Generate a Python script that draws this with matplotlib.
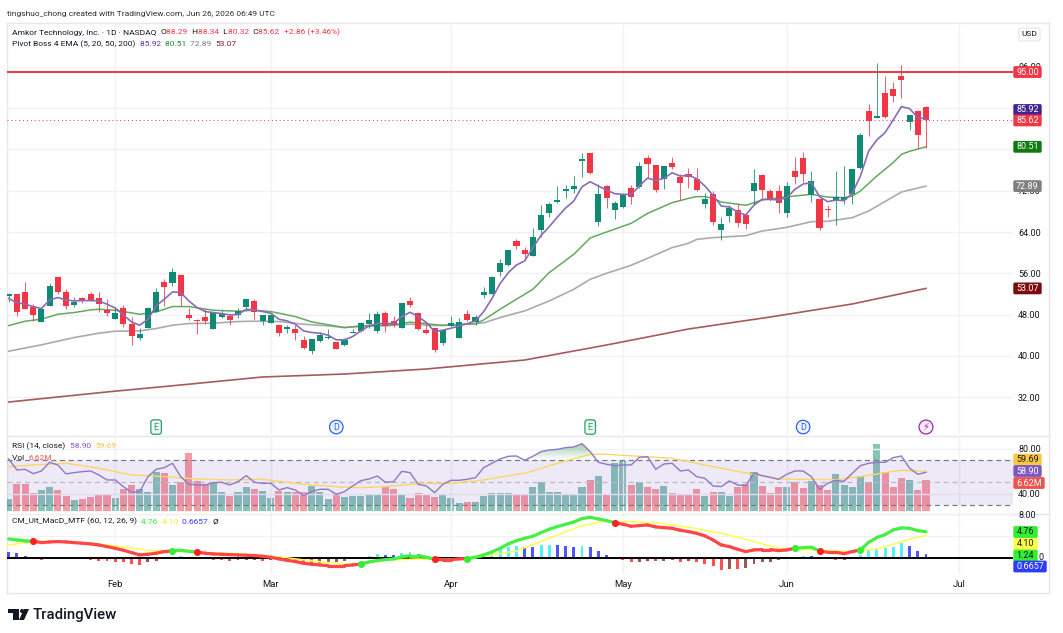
import numpy as np
import matplotlib
matplotlib.use("Agg")
import matplotlib.pyplot as plt
from matplotlib.patches import Rectangle, Circle, Polygon, FancyBboxPatch
from matplotlib.path import Path
from matplotlib.collections import LineCollection
from matplotlib.transforms import Affine2D

plt.rcParams['font.family'] = ['Roboto', 'DejaVu Sans']

month_idx = [13, 32, 54, 75, 95, 116]
month_lab = ['Feb', 'Mar', 'Apr', 'May', 'Jun', 'Jul']

opens = [51.55,51.93,52.32,49.48,46.58,49.68,55.23,52.45,49.94,51.16,
         52.0,51.16,48.84,47.16,49.35,46.13,43.48,45.42,48.52,54.26,
         54.19,55.74,47.87,46.97,47.48,45.23,47.55,47.68,47.93,49.42,
         50.65,46.84,46.39,46.0,45.16,45.16,43.03,40.9,42.9,43.55,
         42.65,42.06,44.45,44.77,46.13,44.77,48.26,46.71,45.42,50.64,
         48.39,44.97,45.35,42.52,45.74,43.55,48.19,46.52,51.81,52.06,
         56.26,57.61,62.19,60.45,59.35,64.32,67.68,69.81,71.93,72.26,
         77.68,79.22,65.93,72.9,68.26,68.77,72.45,72.64,78.39,76.9,
         74.32,77.29,74.64,75.31,74.21,69.36,71.3,64.45,67.1,68.2,
         67.23,71.95,74.99,72.01,71.88,67.68,75.89,78.28,71.17,70.33,
         68.33,70.2,70.2,71.3,76.34,87.53,86.1,91.02,91.79,94.18,
         85.33,87.53,88.29]
highs = [52.26,52.0,54.26,50.13,49.16,54.06,55.25,52.9,51.48,51.42,
         52.39,52.39,50.97,49.35,49.94,47.61,45.35,49.4,53.23,54.84,
         57.1,55.8,49.23,47.1,49.03,48.45,48.9,48.0,49.29,51.1,
         51.1,47.95,48.06,46.05,45.94,45.94,43.87,43.3,44.65,45.29,
         42.7,43.55,45.29,46.52,48.26,48.64,48.64,47.74,50.32,51.48,
         48.45,46.19,45.4,45.16,47.68,47.42,48.9,47.87,53.29,55.42,
         58.84,60.5,62.71,61.16,64.84,69.29,69.74,72.97,73.03,74.77,
         79.22,79.3,73.35,73.03,70.06,71.61,73.16,77.61,78.97,76.95,
         76.75,78.58,75.29,76.47,76.47,71.62,71.95,66.91,69.17,69.36,
         67.75,76.28,75.18,72.27,73.18,73.63,78.48,79.45,75.76,70.4,
         69.23,75.76,76.86,76.2,83.26,88.75,96.71,94.18,93.09,96.32,
         86.7,87.6,88.34]
lows = [50.45,47.74,49.03,46.77,46.5,49.6,51.93,49.16,49.55,50.32,
        50.65,48.52,47.74,47.1,45.68,42.13,43.1,45.35,48.45,49.68,
        53.55,49.68,46.97,44.26,46.19,45.15,47.42,45.94,47.42,49.16,
        47.1,46.06,46.35,43.87,44.52,43.1,41.42,40.39,42.71,43.35,
        41.25,42.0,44.39,44.71,45.48,44.52,44.64,45.55,45.4,49.48,
        45.03,44.26,40.84,42.13,45.68,43.42,46.84,46.0,51.16,52.0,
        55.42,57.42,60.64,58.58,59.3,63.1,66.97,69.55,70.52,71.48,
        74.64,75.22,65.1,68.58,66.45,68.7,69.42,72.6,74.52,71.81,
        72.26,76.13,70.13,72.59,72.0,68.59,65.35,62.44,65.94,64.97,
        64.51,69.23,70.33,70.01,67.62,66.91,73.24,73.69,69.81,64.32,
        66.91,65.29,69.36,69.49,76.28,82.61,86.05,86.17,89.21,89.92,
        83.71,80.22,80.32]
closes = [52.0,48.58,49.10,47.93,49.03,53.48,52.39,49.61,50.39,50.58,
          50.77,50.0,48.32,48.26,46.19,43.81,44.26,49.35,52.45,53.35,
          56.19,51.61,47.35,46.84,46.71,48.39,48.06,46.97,48.65,50.97,
          48.52,47.87,47.87,44.45,45.68,44.45,41.55,43.23,44.0,43.74,
          41.29,43.1,44.71,46.39,46.97,48.13,45.81,46.06,50.26,49.87,
          45.16,44.39,41.22,45.03,46.45,46.64,46.97,47.61,52.39,55.22,
          57.93,60.45,61.22,59.68,62.97,67.35,69.48,70.26,72.26,72.9,
          78.06,75.48,71.29,70.52,69.68,71.16,70.84,76.71,77.16,72.13,
          76.71,76.52,73.42,74.66,72.08,70.4,65.87,65.61,68.59,65.81,
          65.61,73.43,72.08,70.33,69.56,72.85,74.73,75.18,73.89,64.84,
          68.2,70.85,70.72,76.15,82.81,85.46,86.56,86.3,90.37,93.54,
          86.62,82.81,85.62]

ema5 = [51.1,50.32,50.0,49.55,49.16,50.84,51.29,50.84,50.65,50.71,
        50.71,50.65,50.0,49.29,47.93,46.58,45.94,47.1,49.68,50.97,
        52.39,52.26,50.65,49.35,48.58,48.39,48.19,47.93,48.0,49.03,
        48.9,48.58,48.26,47.1,46.77,46.13,44.84,44.52,44.39,44.0,
        43.1,43.1,43.74,44.84,45.81,46.26,46.26,46.26,47.61,48.45,
        47.61,46.45,44.71,44.97,45.35,45.81,46.26,46.77,48.58,51.1,
        54.0,56.13,57.61,58.39,60.97,63.35,65.03,66.9,68.65,70.0,
        72.77,73.74,72.9,72.13,71.42,71.29,71.29,72.9,74.45,74.0,
        74.39,75.48,74.84,74.99,74.34,72.92,71.11,69.04,68.84,67.87,
        67.29,69.23,70.33,70.33,70.2,70.65,72.27,73.3,73.56,70.85,
        69.88,70.2,70.07,71.49,74.86,79.7,81.84,83.26,85.72,88.3,
        87.91,86.17,85.92]

ema20_i = [0,2,4,6,8,10,11,13,16,18,20,22,25,28,30,32,35,37,41,43,45,47,49,51,53,55,57,58,60,62,64,66,
           69,71,73,76,78,81,83,84,85,86,87,90,92,94,96,98,100,102,103,104,106,108,109,110,112]
ema20 = [45.87,46.71,47.1,48.06,48.39,48.9,49.03,48.84,48.06,48.52,49.55,49.55,48.84,48.65,48.84,48.58,47.61,46.58,45.48,
         45.81,45.93,46.06,46.52,46.26,45.87,46.06,46.19,46.97,49.03,50.97,52.9,56.13,
         59.68,62.84,64.0,65.68,67.61,69.68,70.52,70.85,70.85,70.52,69.81,69.17,70.2,70.65,70.98,71.3,70.78,70.65,70.98,71.95,
         74.86,77.44,79.06,79.64,80.51]

ema50_i = [0,4,8,11,13,16,18,20,22,25,28,30,33,36,39,41,43,46,49,52,55,58,60,63,66,69,71,73,76,78,81,83,
           84,86,90,92,95,98,100,103,105,109,112]
ema50 = [40.9,42.13,43.55,44.39,44.77,44.84,45.29,45.94,46.26,46.32,46.65,46.71,46.65,46.13,45.81,45.48,
         45.68,45.81,46.13,45.87,46.06,46.39,47.42,48.71,50.64,52.9,54.84,56.0,57.55,58.9,60.97,61.81,
         62.57,62.9,63.29,64.19,64.9,66.0,66.07,66.78,68.07,71.75,72.89]

ema200_i = [0,12,21,31,41,51,63,73,83,93,103,112]
ema200 = [31.05,33.0,34.35,35.9,36.48,37.45,39.19,42.1,45.2,47.53,50.05,53.07]

volume_m = [2.59,5.75,5.75,3.88,4.53,5.18,4.53,3.24,2.37,2.59,
            3.02,3.45,3.45,2.88,4.75,5.61,4.75,4.17,8.34,8.2,
            5.61,6.18,12.51,6.54,5.82,6.18,4.1,3.24,4.17,5.18,
            4.67,4.31,2.73,4.31,4.1,4.1,4.1,5.46,4.1,2.59,
            3.88,3.02,3.31,3.16,3.67,3.45,5.39,4.67,3.67,2.8,
            3.88,3.45,3.02,3.45,2.8,1.8,1.94,1.94,3.31,3.81,
            3.88,3.81,3.45,3.67,5.18,6.18,4.1,4.17,3.67,3.67,
            5.18,6.61,7.48,3.67,10.35,10.79,5.61,6.18,5.18,4.67,
            5.39,3.81,3.45,3.45,4.75,3.16,4.17,4.17,3.16,5.18,
            5.75,8.48,5.39,3.88,5.18,5.18,6.26,4.96,6.47,5.61,
            4.53,7.91,5.61,5.18,7.48,6.18,14.45,8.34,5.18,7.12,
            6.61,4.53,6.62]

rsi = [70.74,60.96,61.56,57.7,60.07,67.78,65.41,57.41,58.59,59.48,
       60.07,56.52,52.07,52.07,46.15,41.11,41.7,55.04,61.56,63.04,
       66.89,55.04,48.22,47.63,47.63,49.7,50.0,47.63,50.59,55.93,
       50.0,49.11,49.11,43.19,45.26,43.19,38.15,41.7,43.78,43.78,
       39.33,41.7,46.74,51.48,52.96,55.63,50.0,50.59,59.78,58.59,
       48.22,46.74,40.81,48.22,51.78,51.78,52.67,54.15,63.04,66.89,
       70.74,73.11,73.41,69.56,73.11,77.26,78.74,79.33,80.81,81.41,
       84.37,77.26,67.78,66.0,64.81,65.41,65.41,72.22,72.81,61.56,
       66.3,66.89,60.07,60.96,55.04,53.56,46.74,46.15,51.19,47.63,
       47.04,58.0,55.93,54.44,52.67,57.11,60.07,60.07,55.04,43.78,
       49.11,51.78,50.89,58.0,64.81,66.89,67.78,67.78,71.93,73.41,
       62.44,57.11,58.9]

rsi_ma_i = [0,3,7,11,15,19,23,27,31,36,40,41,43,46,50,54,58,62,63,67,71,73,77,81,83,86,90,94,97,101,104,107,109,112]
rsi_ma = [63.93,65.41,66.89,62.44,56.52,55.04,52.96,52.07,52.67,48.22,46.15,45.56,45.26,46.15,48.81,49.11,52.07,57.11,58.0,
          66.89,74.89,74.89,73.11,71.33,68.37,63.93,58.3,52.96,52.67,52.37,55.04,58.59,60.67,59.69]

macd = [3.43,3.24,3.06,3.0,2.75,2.87,2.94,2.87,2.75,2.63,
        2.51,2.32,2.02,1.71,1.35,0.92,0.49,0.61,0.8,1.1,
        1.22,1.35,1.16,0.98,0.8,0.67,0.61,0.55,0.49,0.43,
        0.37,0.24,0.06,-0.24,-0.49,-0.73,-1.04,-1.22,-1.35,-1.47,
        -1.47,-1.47,-1.35,-1.16,-0.8,-0.55,-0.37,-0.24,0.12,0.37,
        0.37,0.06,-0.31,-0.37,-0.37,-0.24,-0.18,0.06,0.49,1.04,
        1.71,2.51,3.12,3.55,3.91,4.59,5.2,5.69,6.12,6.54,
        7.16,7.4,7.09,6.79,6.42,6.12,5.75,5.87,5.99,5.63,
        5.5,5.38,5.02,4.77,4.46,3.98,3.24,2.32,2.02,1.53,
        1.1,1.41,1.47,1.47,1.28,1.41,1.71,1.83,1.9,1.22,
        0.98,0.98,0.73,1.1,1.41,2.8,3.67,4.22,5.08,5.44,
        5.38,4.95,4.76]
cross_idx = [3, 20, 23, 43, 52, 56, 74, 96, 99, 104]

signal_i = [0,3,6,10,13,17,20,23,28,33,37,41,43,46,50,52,56,58,62,66,70,73,74,76,79,83,87,90,94,96,99,103,104,106,108,110,112]
signal = [2.32,2.94,3.06,2.63,2.14,1.35,1.2,1.0,0.7,0.15,-0.6,-1.22,-1.16,-0.49,-0.24,-0.35,-0.2,0.24,1.22,3.55,5.87,
          6.73,6.5,6.6,6.42,5.57,4.46,3.36,1.71,1.41,1.41,1.04,1.28,1.59,2.44,3.42,4.10]

hist = [1.1,0.86,0.31,-0.18,-0.37,-0.24,-0.18,-0.31,-0.24,-0.31,
        -0.43,-0.55,-0.61,-0.73,-0.86,-1.22,-1.28,-0.86,-0.55,-0.12,
        0.18,0.37,0.18,-0.12,-0.31,-0.37,-0.43,-0.55,-0.49,-0.43,
        -0.43,-0.55,-0.49,-0.31,-0.43,-0.73,-0.98,-1.1,-0.92,-0.73,
        -0.73,-0.67,-0.31,0.06,0.31,0.58,0.55,0.52,0.86,0.98,
        0.61,0.24,-0.18,-0.24,-0.18,-0.12,0.0,0.06,0.61,1.1,
        1.59,2.02,2.14,2.02,2.0,2.26,2.32,2.32,2.14,2.02,
        2.08,1.9,1.16,0.43,-0.18,-0.49,-0.86,-0.73,-0.55,-0.67,
        -0.55,-0.43,-0.73,-0.67,-0.8,-1.16,-1.53,-2.26,-2.02,-2.14,
        -1.96,-1.22,-0.86,-0.8,-0.49,-0.12,0.0,0.24,0.21,-0.24,
        -0.31,-0.43,-0.43,-0.12,0.43,1.35,1.65,1.83,2.02,2.63,
        2.08,1.22,0.6657]

event_idx = [18, 40, 71, 97, 112]
event_lab = ['E', 'D', 'E', 'D', '\u26a1']
event_col = ['#2e9e6b', '#2962ff', '#2e9e6b', '#2962ff', '#9c27b0']
price_ticks = [32, 40, 48, 56, 64, 72, 80, 88, 96]
price_tick_labels = ['32.00', '40.00', '48.00', '56.00', '64.00', '72.00', '', '', '96.00']

for name, arr in [('o',opens),('h',highs),('l',lows),('c',closes),('e5',ema5),('v',volume_m),('r',rsi),('m',macd),('hi',hist)]:
    assert len(arr) == 113, (name, len(arr))
assert len(ema20_i)==len(ema20) and len(ema50_i)==len(ema50) and len(ema200_i)==len(ema200)
assert len(rsi_ma_i)==len(rsi_ma) and len(signal_i)==len(signal)

W, H = 1063, 633
fig = plt.figure(figsize=(W/100, H/100), dpi=100, facecolor='white')
px = Affine2D().scale(1, -1).translate(0, H)   # figure pixels, y down

PX0, PX1 = 7, 1013
XLIM = ((PX0-8.7)/8.19, (PX1-8.7)/8.19)

def make_ax(y0, y1, z=1):
    a = fig.add_axes([PX0/W, 1-y1/H, (PX1-PX0)/W, (y1-y0)/H], zorder=z)
    a.set_xlim(*XLIM)
    a.patch.set_alpha(0)
    for s in a.spines.values():
        s.set_visible(False)
    a.set_xticks(month_idx)
    a.set_xticklabels([])
    a.tick_params(length=0)
    a.grid(True, axis='x', color='#f2f3f5', lw=1, zorder=0)
    a.set_axisbelow(True)
    return a

GRID = '#f0f1f3'
TXT = '#131722'
N = len(closes)
x = np.arange(N)
UP, DN = '#108a73', '#f23645'

# ---------- main pane
ax = make_ax(23, 436)
ax.set_ylim(64-(436-232)/5.16, 64+(232-23)/5.16)
ax.yaxis.tick_right()
ax.set_yticks(price_ticks)
ax.set_yticklabels(price_tick_labels, fontsize=6.5, color=TXT)
ax.tick_params(axis='y', pad=3.6)
ax.grid(True, axis='y', color=GRID, lw=1)

ax.plot(ema200_i, ema200, color='#a65a5e', lw=1.2, zorder=2)
ax.plot(ema50_i, ema50, color='#ababab', lw=1.2, zorder=2)
ax.plot(ema20_i, ema20, color='#63a95f', lw=1.1, zorder=2)
for i in range(N):
    up = closes[i] >= opens[i]
    c = UP if up else DN
    ax.plot([i, i], [lows[i], highs[i]], color=c, lw=0.75, alpha=0.8, zorder=3, solid_capstyle='butt')
    b0, b1 = min(opens[i], closes[i]), max(opens[i], closes[i])
    ax.add_patch(Rectangle((i-0.37, b0), 0.74, max(b1-b0, 0.18), facecolor=c, edgecolor='none', zorder=4))
ax.plot(x, ema5, color='#8a6bb8', lw=1.2, zorder=5)
ax.axhline(95, color='#f23645', lw=1.4, zorder=6)
ax.axhline(closes[-1], color='#f23645', lw=0.7, ls=(0, (1, 3)), zorder=1)

# event markers
EVENT_P = 26.2
for i, lab, col in zip(event_idx, event_lab, event_col):
    if lab == '\u26a1':
        ax.text(i, EVENT_P, lab, ha='center', va='center', fontsize=7, color=col, family='DejaVu Sans', zorder=7,
                bbox=dict(boxstyle='circle,pad=0.2', fc='#f6ecf8', ec=col, lw=0.9))
    elif lab == 'E':
        ax.text(i, EVENT_P, lab, ha='center', va='center', fontsize=6.5, color=col, zorder=7,
                bbox=dict(boxstyle='round,pad=0.3', fc='#eef8f2', ec=col, lw=0.9))
    else:
        ax.text(i, EVENT_P, lab, ha='center', va='center', fontsize=6.5, color=col, zorder=7,
                bbox=dict(boxstyle='circle,pad=0.25', fc='#eef3ff', ec=col, lw=0.9))

# ---------- volume + RSI pane
RSI_TOP = 436
RSI_BOT = 513
axv = make_ax(RSI_TOP, RSI_BOT, z=1)
axv.set_ylim(-2*0.2156, 75*0.2156)
axv.set_yticks([])
vcols = [UP if closes[i] >= opens[i] else DN for i in range(N)]
axv.bar(x, volume_m, width=0.86, color=vcols, alpha=0.5, zorder=2, linewidth=0)

axr = make_ax(RSI_TOP, RSI_BOT, z=2)
axr.set_ylim(50-(RSI_BOT-482.3)/1.125, 50+(482.3-RSI_TOP)/1.125)
axr.yaxis.tick_right()
axr.set_yticks([40, 80])
axr.set_yticklabels(['40.00', '80.00'], fontsize=6.5, color=TXT)
axr.tick_params(axis='y', pad=3.6)
axr.grid(True, axis='y', color=GRID, lw=1)
axr.axhspan(30, 70, color='#7e57c2', alpha=0.13, lw=0, zorder=1)
for lv, col in [(70, '#787b86'), (50, '#b8bac2'), (30, '#787b86')]:
    axr.axhline(lv, color=col, lw=0.9, ls=(0, (4, 3)), zorder=2)
rsi_a = np.array(rsi)
fb = axr.fill_between(x, 70, rsi_a, where=rsi_a >= 70, interpolate=True, facecolor='none', edgecolor='none')
grad = np.zeros((64, 2, 4))
grad[..., :3] = matplotlib.colors.to_rgb('#3f9e5a')
grad[..., 3] = np.linspace(0.5, 0.0, 64)[:, None]
im = axr.imshow(grad, extent=(XLIM[0], XLIM[1], 70, 85), origin='upper', aspect='auto', zorder=2.5, interpolation='bilinear')
clip = Path.make_compound_path(*fb.get_paths())
im.set_clip_path(clip, axr.transData)
axr.set_xlim(*XLIM)
axr.set_ylim(50-(RSI_BOT-482.3)/1.125, 50+(482.3-RSI_TOP)/1.125)
axr.plot(rsi_ma_i, rsi_ma, color='#fdd566', lw=1.0, zorder=3)
axr.plot(x, rsi, color='#8f78c4', lw=1.0, zorder=4)

# ---------- MACD pane
axm = make_ax(514, 574)
axm.set_ylim(-(574-557.6)/5.45, 8)
axm.yaxis.tick_right()
axm.set_yticks([0, 8])
axm.set_yticklabels(['', '8.00'], fontsize=6.5, color=TXT)
axm.tick_params(axis='y', pad=3.6)
axm.set_yticks([4], minor=True)
axm.grid(True, axis='y', which='both', color=GRID, lw=1)
axm.tick_params(axis='y', which='minor', length=0)
axm.set_xticklabels(month_lab, fontsize=6.8, color=TXT)
axm.tick_params(axis='x', pad=4.2)

hcols = []
for i, h in enumerate(hist):
    prev = hist[i-1] if i else h
    if h >= 0:
        hcols.append('#33eeff' if h > prev else '#2b3bff')
    else:
        hcols.append('#ff3030' if h < prev else '#8a3a3a')
axm.bar(x, hist, width=0.36, color=hcols, alpha=0.85, linewidth=0, zorder=2)
axm.axhline(0, color='black', lw=1.4, zorder=3)
axm.plot(signal_i, signal, color='#ffff50', lw=1.1, zorder=4)
state = []
s = True
for i in range(N-1):
    if i in cross_idx:
        s = not s
    state.append(s)
segs = [[(i, macd[i]), (i+1, macd[i+1])] for i in range(N-1)]
axm.add_collection(LineCollection(segs, colors=['#44f044' if b else '#ff4545' for b in state],
                                  linewidths=2.3, zorder=5, capstyle='round'))
for n, i in enumerate(cross_idx):
    axm.scatter([i], [macd[i]], s=26, color='#ff2020' if n % 2 == 0 else '#33ee33', zorder=6, linewidths=0)

# ---------- frame
for seg in [((7, 23), (1049, 23)), ((7, 593), (1049, 593)), ((7, 23), (7, 593)), ((1049, 23), (1049, 593)),
            ((7, 436), (1049, 436)), ((7, 514), (1049, 514))]:
    fig.add_artist(plt.Line2D([seg[0][0], seg[1][0]], [seg[0][1], seg[1][1]], transform=px,
                              color='#e6e7ea', lw=1, zorder=0.5))

# ---------- text helpers
def chain(x0, y, parts, size=6.05):
    rend = fig.canvas.get_renderer()
    cur = x0
    for t, col in parts:
        tx = fig.text(cur, y, t, transform=px, fontsize=size, color=col, ha='left', va='center', zorder=7)
        cur = px.inverted().transform(tx.get_window_extent(rend).corners())[:, 0].max()

def box(x0, x1, y, txt, bg, fg='white', size=6.5):
    fig.add_artist(FancyBboxPatch((x0+1, y-5.2), x1-x0-2, 10.4, boxstyle='round,pad=0,rounding_size=1', mutation_aspect=1,
                                  transform=px, fc=bg, ec=bg, lw=1, zorder=5))
    fig.text((x0+x1)/2, y, txt, transform=px, ha='center', va='center', fontsize=size, color=fg, zorder=6)

def py(axis, v):
    return H - axis.transData.transform((0, v))[1]

chain(7, 14, [('tingshuo_chong created with TradingView.com, Jun 26, 2026 06:49 UTC', '#2a2e39')], 6.0)
R = '#f23645'
chain(12, 32.5, [('Amkor Technology, Inc. \u00b7 1D \u00b7 NASDAQ  ', TXT), ('O', TXT), ('88.29 ', R), (' H', TXT), ('88.34 ', R),
                 (' L', TXT), ('80.32 ', R), (' C', TXT), ('85.62 ', R), (' +2.86 (+3.46%)', R)])
chain(12, 44.5, [('Pivot Boss 4 EMA (5, 20, 50, 200)  ', TXT), ('85.92  ', '#5b2e9e'), ('80.51  ', '#1b8a2d'),
                 ('72.89  ', '#787b86'), ('53.07', '#801922')])
chain(12, 446, [('RSI (14, close)  ', TXT), ('58.90  ', '#7e57c2'), ('59.69', '#f5c342')])
chain(12, 458, [('Vol  ', TXT), ('6.62M', '#ef5350')])
chain(12, 521.5, [('CM_Ult_MacD_MTF (60, 12, 26, 9)  ', TXT), ('4.76  ', '#33ee33'), ('4.10  ', '#f5ee33'),
                  ('0.6657  ', '#2b3bff'), ('\u00d8', TXT)])

fig.add_artist(FancyBboxPatch((1019, 28), 21, 13, boxstyle='round,pad=0,rounding_size=2', transform=px,
                              fc='white', ec='#e0e3eb', lw=0.8, zorder=5))
fig.text(1029.5, 34.5, 'USD', transform=px, ha='center', va='center', fontsize=6.0, color=TXT, zorder=6)

box(1013, 1042, py(ax, 95), '95.00', '#f23645')
box(1013, 1042, 110, '85.92', '#42238f')
box(1013, 1042, py(ax, closes[-1]), '85.62', '#f23645')
box(1013, 1042, py(ax, ema20[-1]), '80.51', '#0e7a12')
box(1013, 1042, py(ax, ema50[-1]), '72.89', '#7f7f7f')
box(1013, 1042, py(ax, ema200[-1]), '53.07', '#7a0c0c')
box(1013, 1042, 459.6, '59.69', '#fbc740', TXT)
box(1013, 1042, 471, '58.90', '#7e57c2')
box(1013, 1045, 483, '6.62M', '#ef5350')
box(1013, 1038, 532, '4.76', '#33ee33', '#131722')
box(1013, 1038, 544, '4.10', '#ffff44', '#131722')
box(1013, 1038, 555.5, '1.24', '#33ee33', '#131722')
fig.text(1041, 557, '0', transform=px, ha='center', va='center', fontsize=6.5, color=TXT, zorder=6)
box(1013, 1047, 566.5, '0.6657', '#2b3bff')

# ---------- logo
LOGO = '#131722'
fig.add_artist(Polygon([(8, 609), (19, 609), (19, 620), (13, 620), (13, 613), (8, 613)], closed=True, transform=px, fc=LOGO, ec='none', zorder=6))
fig.add_artist(Circle((22, 611), 2, transform=px, fc=LOGO, ec='none', zorder=6))
fig.add_artist(Polygon([(24, 609), (29, 609), (24, 620), (19, 620)], closed=True, transform=px, fc=LOGO, ec='none', zorder=6))
fig.text(33, 615, 'TradingView', transform=px, ha='left', va='center', fontsize=10.8, color=LOGO, zorder=6, fontweight='medium')

fig.savefig('out.png', dpi=100, facecolor='white')
